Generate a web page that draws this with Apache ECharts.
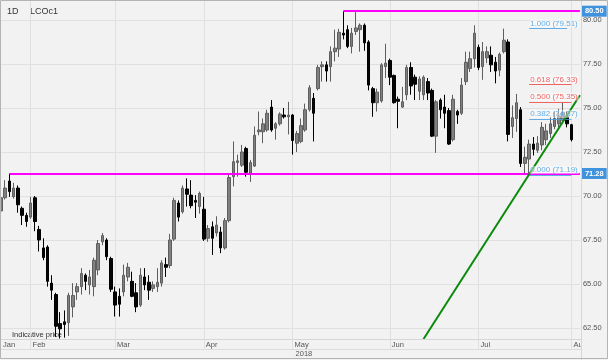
<!DOCTYPE html>
<html><head><meta charset="utf-8">
<script src="https://cdn.jsdelivr.net/npm/echarts@6/dist/echarts.min.js"></script>
<style>html,body{margin:0;padding:0;background:#f2f2f2;}#c{width:608px;height:360px;}</style>
</head><body><div id="c"></div>
<script>
// ---- categories (trading days, LCOc1) ----
const datesJan = ['2018-01-23','2018-01-24','2018-01-25','2018-01-26','2018-01-29','2018-01-30','2018-01-31'];
const datesFeb = ['2018-02-01','2018-02-02','2018-02-05','2018-02-06','2018-02-07','2018-02-08','2018-02-09','2018-02-12','2018-02-13','2018-02-14','2018-02-15','2018-02-16','2018-02-19','2018-02-20','2018-02-21','2018-02-22','2018-02-23','2018-02-26','2018-02-27','2018-02-28'];
const datesMar = ['2018-03-01','2018-03-02','2018-03-05','2018-03-06','2018-03-07','2018-03-08','2018-03-09','2018-03-12','2018-03-13','2018-03-14','2018-03-15','2018-03-16','2018-03-19','2018-03-20','2018-03-21','2018-03-22','2018-03-23','2018-03-26','2018-03-27','2018-03-28','2018-03-29'];
const datesApr = ['2018-04-02','2018-04-03','2018-04-04','2018-04-05','2018-04-06','2018-04-09','2018-04-10','2018-04-11','2018-04-12','2018-04-13','2018-04-16','2018-04-17','2018-04-18','2018-04-19','2018-04-20','2018-04-23','2018-04-24','2018-04-25','2018-04-26','2018-04-27','2018-04-30'];
const datesMay = ['2018-05-01','2018-05-02','2018-05-03','2018-05-04','2018-05-07','2018-05-08','2018-05-09','2018-05-10','2018-05-11','2018-05-14','2018-05-15','2018-05-16','2018-05-17','2018-05-18','2018-05-21','2018-05-22','2018-05-23','2018-05-24','2018-05-25','2018-05-28','2018-05-29','2018-05-30','2018-05-31'];
const datesJun = ['2018-06-01','2018-06-04','2018-06-05','2018-06-06','2018-06-07','2018-06-08','2018-06-11','2018-06-12','2018-06-13','2018-06-14','2018-06-15','2018-06-18','2018-06-19','2018-06-20','2018-06-21','2018-06-22','2018-06-25','2018-06-26','2018-06-27','2018-06-28','2018-06-29'];
const datesJul = ['2018-07-02','2018-07-03','2018-07-04','2018-07-05','2018-07-06','2018-07-09','2018-07-10','2018-07-11','2018-07-12','2018-07-13','2018-07-16','2018-07-17','2018-07-18','2018-07-19','2018-07-20','2018-07-23','2018-07-24','2018-07-25','2018-07-26','2018-07-27','2018-07-30','2018-07-31'];
const datesAug = ['2018-08-01','2018-08-02','2018-08-03'];

// ---- OHLC values: [open, close, low, high] ----
const ohlcJan = [[69.15,69.90,69.05,70.10],[69.90,70.45,69.80,70.90],[70.85,70.25,69.95,71.28],[69.96,70.45,69.85,70.75],[70.45,69.50,69.05,70.60],[69.30,68.90,68.35,69.40],[68.90,68.55,68.25,69.05]];
const ohlcFeb = [[68.80,69.60,68.70,69.95],[69.90,68.55,68.00,70.00],[68.10,67.50,66.85,68.30],[67.05,66.50,66.35,67.60],[67.10,65.15,64.85,67.20],[65.05,64.65,64.10,65.50],[64.40,62.60,62.00,64.50],[62.75,62.45,61.90,63.40],[62.85,62.70,61.95,63.50],[62.80,64.35,62.05,64.50],[63.70,64.35,63.10,65.05],[64.55,64.85,64.10,65.05],[64.85,65.60,64.40,65.90],[65.50,65.15,64.65,65.60],[64.95,65.40,64.40,65.80],[64.85,66.35,64.30,66.50],[65.80,67.30,65.50,67.50],[67.40,67.75,67.20,67.90],[67.50,66.55,66.35,67.60],[66.45,64.70,64.55,66.55]];
const ohlcMar = [[64.55,63.80,63.15,64.85],[64.30,63.85,63.15,64.75],[64.55,65.50,64.30,66.10],[65.40,65.95,65.15,66.20],[65.15,64.30,64.25,65.70],[64.50,63.70,63.40,65.05],[63.80,65.50,63.70,65.90],[65.40,64.95,64.65,65.90],[65.10,64.65,64.10,65.50],[64.75,64.95,64.55,65.15],[64.85,65.10,64.55,65.90],[65.05,66.20,64.85,66.35],[66.10,65.95,65.40,66.50],[66.05,67.50,65.90,67.85],[67.55,69.75,67.45,69.90],[69.60,68.80,68.55,69.75],[69.10,70.45,69.00,70.60],[70.40,70.10,69.40,71.00],[70.05,69.45,69.30,70.90],[69.75,69.65,68.75,70.05],[69.40,70.15,69.00,70.25]];
const ohlcApr = [[69.25,67.55,67.45,69.95],[67.60,68.15,67.40,68.35],[68.25,67.60,66.65,68.55],[67.90,68.35,67.70,68.85],[67.95,67.05,66.75,68.25],[67.05,68.60,66.95,68.75],[68.60,71.05,68.50,71.30],[71.10,71.95,70.55,73.10],[71.90,72.00,71.10,72.35],[71.75,72.50,71.65,72.90],[72.70,71.35,71.10,72.80],[71.30,71.90,70.80,72.05],[71.70,73.45,71.65,73.95],[73.65,73.75,73.45,74.80],[73.65,74.10,73.00,74.40],[73.75,74.70,73.65,74.90],[75.05,73.75,73.65,75.45],[73.85,74.10,73.20,74.20],[74.10,74.65,74.00,74.75],[74.60,74.50,74.40,75.00],[74.50,74.60,73.50,75.35]];
const ohlcMay = [[74.60,73.15,72.35,74.65],[73.00,73.55,72.50,73.70],[73.10,74.00,73.00,74.40],[73.75,74.90,73.65,75.25],[74.90,76.15,74.80,76.30],[75.55,74.70,73.10,75.85],[76.10,77.30,76.00,77.45],[77.35,77.45,76.50,77.65],[77.45,77.10,76.50,77.65],[77.35,78.20,76.50,78.50],[78.20,78.40,77.65,79.45],[78.35,79.30,77.90,79.50],[79.25,79.15,78.90,80.50],[79.45,78.50,78.40,79.70],[78.50,79.25,78.10,79.55],[79.35,79.55,79.15,80.45],[79.45,79.70,78.20,79.80],[79.70,78.70,78.25,79.80],[78.75,76.30,76.00,78.85],[76.10,75.30,74.50,76.20],[75.30,75.90,74.80,76.10],[75.40,77.45,75.30,77.55],[77.35,77.55,76.70,78.65]];
const ohlcJun = [[77.70,76.75,76.30,77.80],[76.85,75.30,75.25,76.90],[75.50,75.38,73.85,75.65],[75.05,75.35,75.00,76.20],[75.75,77.30,75.45,77.45],[77.30,76.25,75.75,77.60],[76.75,76.35,75.45,76.90],[75.95,76.65,75.45,76.80],[75.75,76.75,75.45,76.85],[76.50,75.85,75.45,76.70],[76.00,73.40,73.35,76.10],[73.40,75.35,72.45,75.45],[75.45,74.90,74.40,75.55],[75.05,74.70,73.85,75.75],[74.85,72.95,72.90,75.00],[73.20,75.50,73.10,75.75],[74.80,74.60,74.10,74.90],[74.70,76.30,74.60,76.70],[76.50,77.60,76.30,78.20],[77.25,77.80,77.05,78.20],[77.80,79.25,77.30,79.70]];
const ohlcJul = [[78.45,77.30,77.15,78.60],[77.35,78.20,76.60,78.75],[77.85,78.20,77.55,78.50],[78.00,77.45,77.05,78.50],[77.60,77.10,76.40,77.90],[77.15,78.05,76.80,78.15],[78.20,78.85,78.10,79.51],[78.75,73.50,73.10,78.90],[73.95,74.45,73.30,75.15],[74.40,75.30,73.65,75.80],[74.90,71.85,71.65,75.05],[71.85,72.20,71.19,72.80],[72.10,72.95,71.30,73.20],[72.95,72.65,72.30,73.35],[72.60,73.00,72.45,73.40],[72.90,73.90,72.60,74.20],[73.20,73.70,72.90,74.10],[73.55,74.10,73.30,74.50],[73.95,74.40,73.80,74.80],[74.10,74.55,73.90,74.95],[74.30,74.75,74.10,75.30],[74.50,74.10,73.90,74.80]];
const ohlcAug = [[74.05,73.20,73.10,74.10]];

// ---- tick labels ----
const yTicks = [62.5, 65, 67.5, 70, 72.5, 75, 77.5, 80];
const monthLabels = {'2018-01-23':'Jan','2018-02-01':'Feb','2018-03-01':'Mar','2018-04-02':'Apr','2018-05-01':'May','2018-06-01':'Jun','2018-07-02':'Jul','2018-08-01':'Aug'};
const yearLabels = {'2018-05-01':'2018'};

// ---- drawings ----
const resistance = {from:'2018-05-17', value:80.50};
const support = {from:'2018-01-25', value:71.28};
const trendStart = ['2018-06-13', 61.875];
const trendEnd = ['2018-08-03', 75.72];
const fibLevels = [
  {ratio:'1.000', value:79.51, color:'#4aa0e2', end:'2018-07-31'},
  {ratio:'0.618', value:76.33, color:'#f04a4a', end:'2018-08-01'},
  {ratio:'0.500', value:75.35, color:'#f04a4a', end:'2018-08-01'},
  {ratio:'0.382', value:74.37, color:'#4aa0e2', end:'2018-08-01'},
  {ratio:'0.000', value:71.19, color:'#4aa0e2', end:'2018-08-01'}
];
const fibStart = '2018-07-18';

const dates = [].concat(datesJan, datesFeb, datesMar, datesApr, datesMay, datesJun, datesJul, datesAug);
const ohlc = [].concat(ohlcJan, ohlcFeb, ohlcMar, ohlcApr, ohlcMay, ohlcJun, ohlcJul, ohlcAug);
const lastCat = dates[dates.length - 1];

const FONT = 'Liberation Sans, Arial, sans-serif';
const GRID = '#e0e0e0';

function badge(txt){
  return {show:true, position:'end', distance:2, formatter:txt, color:'#fff', backgroundColor:'#3f92dc',
          padding:[2,3,1,3], fontSize:7.5, fontWeight:'bold', fontFamily:FONT};
}

const markData = [
  [{coord:[resistance.from, resistance.value], lineStyle:{color:'#ff00ff', width:2, type:'solid'}},
   {coord:[lastCat, resistance.value], label:badge(resistance.value.toFixed(2))}],
  [{coord:[support.from, support.value], lineStyle:{color:'#ff00ff', width:2, type:'solid'}},
   {coord:[lastCat, support.value], label:badge(support.value.toFixed(2))}]
];
fibLevels.forEach(f => {
  markData.push([
    {coord:[fibStart, f.value], lineStyle:{color:f.color, width:1, type:'solid', opacity:0.85}},
    {coord:[f.end, f.value], label:{show:true, position:'insideStartTop', distance:1, formatter:f.ratio+' ('+f.value.toFixed(2)+')',
      color:f.color, fontSize:8, fontFamily:FONT, backgroundColor:'rgba(255,255,255,0.55)', padding:[0,1,0,0]}}
  ]);
});
markData.push([
  {coord:trendStart, lineStyle:{color:'#0a8a0a', width:2, type:'solid'}},
  {coord:trendEnd}
]);

const isMonth = (i, v) => monthLabels[v] !== undefined && i > 0;
const chart = echarts.init(document.getElementById('c'));
chart.setOption({
  animation:false,
  backgroundColor:'#f2f2f2',
  textStyle:{fontFamily:FONT},
  grid:{left:0.51, right:28.1, top:0, bottom:21},
  xAxis:[{
    type:'category', data:dates, boundaryGap:false,
    axisLine:{show:false},
    axisTick:{show:true, interval:isMonth, length:10, lineStyle:{color:GRID}},
    axisLabel:{show:true, interval:(i,v)=>monthLabels[v]!==undefined, formatter:v=>monthLabels[v]||'',
      align:'left', padding:[0,0,0,2], margin:2, fontSize:7.5, color:'#555', fontFamily:FONT},
    splitLine:{show:true, interval:isMonth, lineStyle:{color:GRID, width:1}}
  },{
    type:'category', data:dates, boundaryGap:false, position:'bottom', offset:10,
    axisLine:{show:false}, axisTick:{show:false}, splitLine:{show:false},
    axisLabel:{show:true, interval:(i,v)=>yearLabels[v]!==undefined, formatter:v=>yearLabels[v]||'',
      align:'left', padding:[0,0,0,3], margin:1, fontSize:7.5, color:'#555', fontFamily:FONT}
  }],
  yAxis:{
    type:'value', position:'right', min:61.875, max:81.136, scale:true,
    axisLine:{show:false},
    axisTick:{show:false, customValues:yTicks},
    axisLabel:{customValues:yTicks, formatter:v=>v.toFixed(2), fontSize:7.5, color:'#555', margin:3, fontFamily:FONT},
    splitLine:{show:true, lineStyle:{color:GRID, width:1}}
  },
  series:[{
    type:'candlestick', data:ohlc, barWidth:3,
    itemStyle:{color:'#808080', color0:'#050505', borderColor:'#5e5e5e', borderColor0:'#000', borderWidth:1},
    markLine:{symbol:'none', silent:true, animation:false, label:{show:false}, emphasis:{disabled:true}, data:markData}
  }],
  graphic:[
    {type:'text', left:7, top:7, style:{text:'1D', fontSize:9, fill:'#333', fontFamily:FONT}},
    {type:'text', left:30, top:7, style:{text:'LCOc1', fontSize:9, fill:'#333', fontFamily:FONT}},
    {type:'text', left:12, top:331, style:{text:'Indicative price', fontSize:7.5, fill:'#333', fontFamily:FONT}},
    {type:'rect', shape:{x:582, y:339.5, width:25, height:19}, style:{fill:'#f2f2f2'}, z:100},
    {type:'line', shape:{x1:0, y1:339.5, x2:582, y2:339.5}, style:{stroke:'#d6d6d6', lineWidth:1}, z:101},
    {type:'line', shape:{x1:0, y1:349.5, x2:582, y2:349.5}, style:{stroke:'#dcdcdc', lineWidth:1}, z:101},
    {type:'line', shape:{x1:581.5, y1:0, x2:581.5, y2:360}, style:{stroke:'#d6d6d6', lineWidth:1}, z:101},
    {type:'rect', shape:{x:0.5, y:0.5, width:607, height:358}, style:{fill:null, stroke:'#b4b4b4', lineWidth:1}, z:102}
  ]
});
</script></body></html>
